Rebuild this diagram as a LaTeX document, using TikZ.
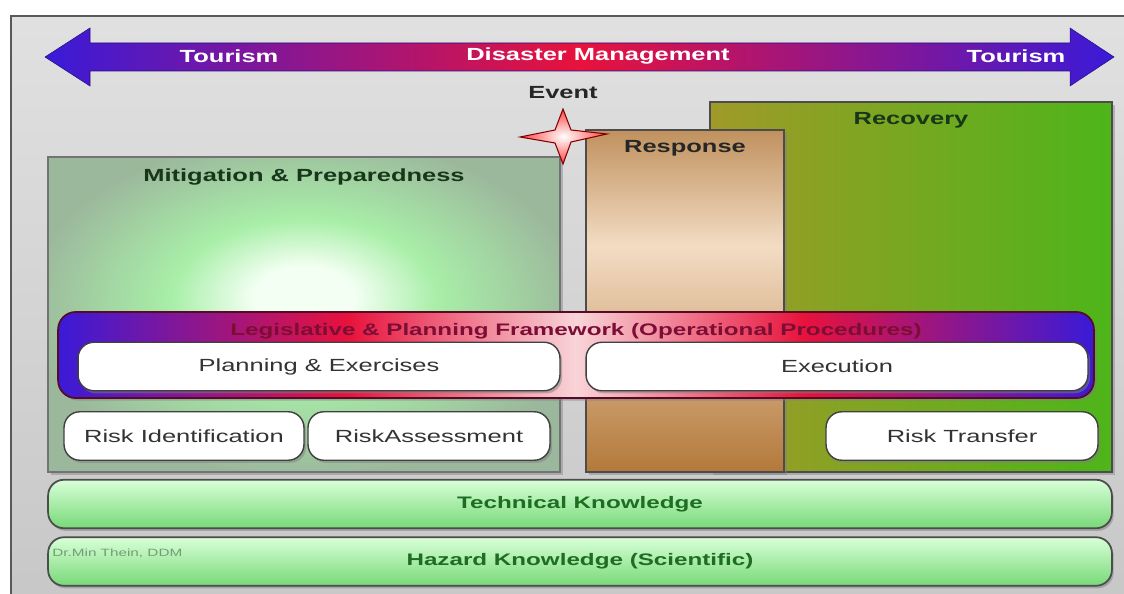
\documentclass[tikz,border=0pt]{standalone}
\usepackage{fontspec}
\newfontfamily\dmfont[FakeStretch=1.45]{Liberation Sans}
\usetikzlibrary{positioning,shadows}
\definecolor{panelgray}{HTML}{D4D4D4}
\definecolor{arrowblue}{HTML}{3A1AD8}
\definecolor{arrowred}{HTML}{E8123C}
\definecolor{mitcenter}{HTML}{F2FFF2}
\definecolor{mitgreen}{HTML}{A8EEA8}
\definecolor{mitedge}{HTML}{9CB89C}
\definecolor{resptop}{HTML}{C0915E}
\definecolor{resplight}{HTML}{F3DCC4}
\definecolor{respbottom}{HTML}{B3793A}
\definecolor{recolive}{HTML}{A09A28}
\definecolor{recgreen}{HTML}{4DB51A}
\definecolor{legpink}{HTML}{F8D4D8}
\definecolor{titlegreen}{HTML}{17361A}
\definecolor{knowgreen}{HTML}{1E6E22}
\definecolor{legtext}{HTML}{7C0E36}
\pgfdeclarehorizontalshading{legshade}{100bp}{color(0bp)=(arrowblue); color(25bp)=(arrowblue); color(39bp)=(arrowred); color(50bp)=(legpink); color(61bp)=(arrowred); color(75bp)=(arrowblue); color(100bp)=(arrowblue)}
\pgfdeclarehorizontalshading{tourshade}{100bp}{color(0bp)=(arrowblue); color(25bp)=(arrowblue); color(50bp)=(arrowred); color(75bp)=(arrowblue); color(100bp)=(arrowblue)}
\pgfdeclareverticalshading{respshade}{100bp}{color(0bp)=(respbottom); color(25bp)=(respbottom); color(58bp)=(resplight); color(75bp)=(resptop); color(100bp)=(resptop)}
\pgfdeclareradialshading{mitshade}{\pgfpoint{0bp}{3bp}}{color(0bp)=(mitcenter); color(5bp)=(mitcenter); color(13bp)=(mitgreen); color(27bp)=(mitedge); color(50bp)=(mitedge)}
\tikzset{
  phase/.style={draw=black!70, line width=1pt, inner sep=0pt, drop shadow={opacity=0.45, shadow xshift=1.5pt, shadow yshift=-1.5pt}},
  phasetitle/.style={font=\dmfont\bfseries\fontsize{10}{12}\selectfont, text=titlegreen, inner sep=1pt},
  whitebox/.style={draw=black!75, line width=0.8pt, fill=white, rounded corners=9pt, inner sep=0pt, minimum height=0.97cm, font=\dmfont\fontsize{10}{12}\selectfont, text=black!80, drop shadow={opacity=0.5, shadow xshift=1.2pt, shadow yshift=-1.5pt}},
  knowbar/.style={draw=black!70, line width=1pt, rounded corners=9pt, top color=white!85!green, bottom color=green!45!white!85!black!100, inner sep=0pt, minimum width=21.28cm, minimum height=0.97cm, font=\dmfont\bfseries\fontsize{9.5}{11}\selectfont, text=knowgreen, drop shadow={opacity=0.5, shadow xshift=1pt, shadow yshift=-1.5pt}},
  bandtext/.style={font=\dmfont\bfseries\fontsize{10}{12}\selectfont, text=white, inner sep=0pt}
}
\begin{document}
\begin{tikzpicture}[x=0.02cm, y=-0.02cm]
  \useasboundingbox (0,0) rectangle (1124,594);
  \fill[white] (0,0) rectangle (1124,594);
  \begin{scope}
    \clip (0,0) rectangle (1124,594);
    \path[draw=black!65, line width=1.5pt, top color=black!12, bottom color=black!22] (11,16) rectangle (1140,610);
  \end{scope}
  % time line
  \path[shading=tourshade, draw=arrowblue!60!black, line width=0.3pt] (45,57) -- (90,28) -- (90,43) -- (1070,43) -- (1070,28) -- (1114,57) -- (1070,86) -- (1070,71) -- (90,71) -- (90,86) -- cycle;
  \node[bandtext] (tourleft) at (229,56) {Tourism};
  \node[bandtext] (dismgmt) at (598,56) {Disaster Management};
  \node[bandtext] (tourright) at (1016,56) {Tourism};
  % phases
  \node[phase, left color=recolive, right color=recgreen, minimum width=8.04cm, minimum height=7.4cm] (recovery) at (911,287) {};
  \node[phasetitle, below=5pt of recovery.north] (recoverytitle) {Recovery};
  \node[phase, shading=respshade, minimum width=3.96cm, minimum height=6.84cm] (response) at (685,301) {};
  \node[phasetitle, text=black!85, below=5pt of response.north] (responsetitle) {Response};
  \node[phase, draw=black!55, shading=mitshade, minimum width=10.24cm, minimum height=6.3cm] (mitigation) at (304,314.5) {};
  \node[phasetitle, below=6pt of mitigation.north] (mitigationtitle) {Mitigation \& Preparedness};
  % event
  \path[draw=red!50!black, line width=0.6pt, inner color=white, outer color=red!75!white] (520,137) -- (555,130) -- (563,109) -- (571,130) -- (607,134) -- (571,142) -- (563,164) -- (555,143) -- cycle;
  \node[font=\dmfont\bfseries\fontsize{10}{12}\selectfont, text=black!85] (event) at (563,93) {Event};
  % framework
  \node[draw=legtext!70!black, line width=1pt, rounded corners=10pt, shading=legshade, minimum width=20.72cm, minimum height=1.72cm, inner sep=0pt, drop shadow={opacity=0.5, shadow xshift=1.5pt, shadow yshift=-1.5pt}] (framework) at (576,355) {};
  \node[font=\dmfont\bfseries\fontsize{9.5}{11}\selectfont, text=legtext, inner sep=0pt, below=7pt of framework.north] (frameworktitle) {Legislative \& Planning Framework (Operational Procedures)};
  \node[whitebox, minimum width=9.64cm] (planning) at (319,366.5) {Planning \& Exercises};
  \node[whitebox, minimum width=10.04cm] (execution) at (837,366.5) {Execution};
  \node[whitebox, minimum width=4.8cm] (riskid) at (184,436) {Risk Identification};
  \node[whitebox, minimum width=4.84cm] (riskassess) at (429,436) {RiskAssessment};
  \node[whitebox, minimum width=5.44cm] (risktransfer) at (962,436) {Risk Transfer};
  % knowledge
  \node[knowbar] (technical) at (580,504) {Technical Knowledge};
  \node[knowbar] (hazard) at (580,561.5) {Hazard Knowledge (Scientific)};
  \node[font=\dmfont\fontsize{6}{7}\selectfont, text=green!30!black!55, anchor=west, inner sep=0pt] (author) at (52,553) {Dr.Min Thein, DDM};
\end{tikzpicture}
\end{document}
